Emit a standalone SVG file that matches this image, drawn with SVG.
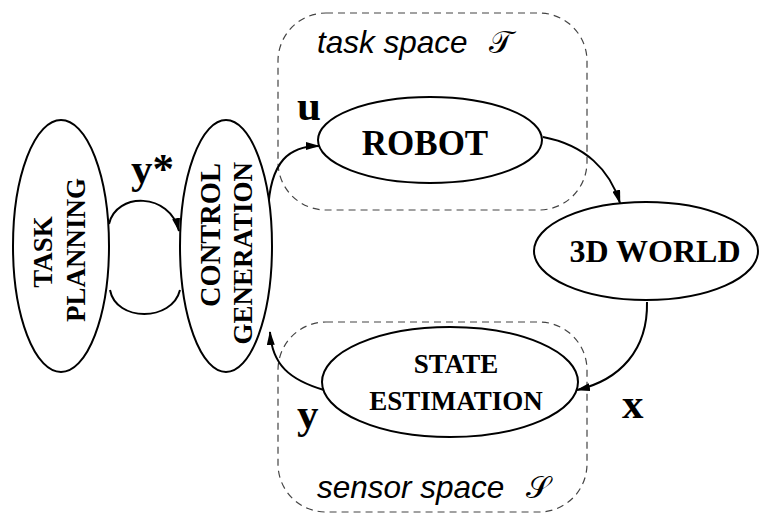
<svg xmlns="http://www.w3.org/2000/svg" width="760" height="516" viewBox="0 0 760 516">
<style>
.node{fill:#fff;stroke:#000;stroke-width:2}
.lbl{font-family:"Liberation Serif","Times New Roman",serif;font-weight:bold;fill:#000}
.var{font-family:"Liberation Serif","Times New Roman",serif;font-weight:bold;font-size:43px;fill:#000}
.space{fill:none;stroke:#444;stroke-width:1.2;stroke-dasharray:7 5}
.sp{font-family:"Liberation Sans",Arial,sans-serif;font-style:italic;font-size:31.5px;fill:#000}
.cal{font-family:"DejaVu Serif","Noto Sans","Liberation Serif",serif;font-size:31px;fill:#000}
.conn path{fill:none;stroke:#000;stroke-width:2}
</style>
<defs>
<marker id="ah" markerUnits="userSpaceOnUse" markerWidth="14" markerHeight="8" refX="13" refY="4" orient="auto">
<path d="M0,0 L14,4 L0,8 Z" fill="#000"/>
</marker>
</defs>
<g id="task-space">
<rect class="space" x="278" y="13" width="309" height="197" rx="48"/>
<text class="sp" x="317" y="53">task space</text>
<text class="cal" x="489" y="53">𝒯</text>
</g>
<g id="sensor-space">
<rect class="space" x="278" y="322" width="309" height="190" rx="48"/>
<text class="sp" x="317" y="498">sensor space</text>
<text class="cal" x="526" y="498">𝒮</text>
</g>
<g class="conn" id="connectors">
<path d="M109 224 C116 192,170 192,179 231" marker-end="url(#ah)"/>
<path d="M110 290 C116 322,172 322,180 290"/>
<path d="M268 212 C270 160,290 146,319 146" marker-end="url(#ah)"/>
<path d="M543 137 C585 145,610 170,620 203" marker-end="url(#ah)"/>
<path d="M647 302 C648 350,620 380,577 390" marker-end="url(#ah)"/>
<path d="M324 390 C290 380,272 365,270 332" marker-end="url(#ah)"/>
</g>
<g id="task-planning">
<ellipse class="node" cx="61" cy="246" rx="48" ry="126"/>
<text class="lbl" font-size="27" text-anchor="middle" transform="translate(52,252) rotate(-90)">TASK</text>
<text class="lbl" font-size="27" text-anchor="middle" transform="translate(85,250) rotate(-90)">PLANNING</text>
</g>
<g id="control-generation">
<ellipse class="node" cx="226" cy="246" rx="46" ry="126"/>
<text class="lbl" font-size="28.5" text-anchor="end" transform="translate(220,163) rotate(-90)">CONTROL</text>
<text class="lbl" font-size="27" text-anchor="end" transform="translate(252,162) rotate(-90)">GENERATION</text>
</g>
<g id="robot">
<ellipse class="node" cx="430" cy="140" rx="112" ry="43"/>
<text class="lbl" font-size="35" text-anchor="middle" x="425" y="155">ROBOT</text>
</g>
<g id="world">
<ellipse class="node" cx="646" cy="251" rx="112" ry="49"/>
<text class="lbl" font-size="32" text-anchor="middle" x="655" y="262">3D WORLD</text>
</g>
<g id="state-estimation">
<ellipse class="node" cx="450" cy="382" rx="128" ry="55"/>
<text class="lbl" font-size="27" text-anchor="middle" x="456" y="373">STATE</text>
<text class="lbl" font-size="27" text-anchor="middle" x="456" y="410">ESTIMATION</text>
</g>
<g id="labels">
<text class="var" x="131" y="183">y*</text>
<text class="var" x="297" y="120">u</text>
<text class="var" x="297" y="428">y</text>
<text class="var" x="622" y="418">x</text>
</g>
</svg>
